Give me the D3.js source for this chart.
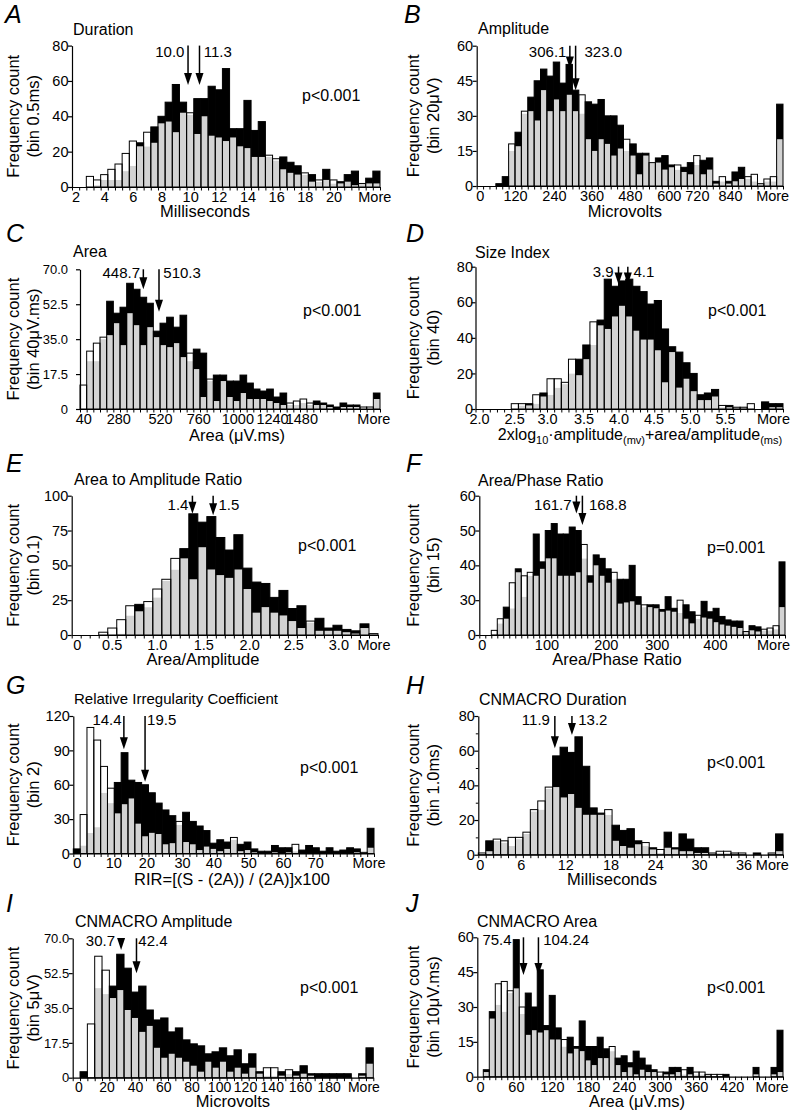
<!DOCTYPE html>
<html><head><meta charset="utf-8">
<script src="https://cdn.jsdelivr.net/npm/d3@7"></script>
<style>
body{margin:0;background:#fff;}
svg{display:block;}
</style></head><body>
<svg id="c" width="797" height="1115"></svg>
<script>
// ---------- DATA (counts per bin; "white" = group shown white, "black" = group shown black) ----------
// A Duration (bin 0.5 ms)
const durationWhite = [0,0,6,4,7,10,13,19,26,23,31,25,36,37,31,42,42,30,40,29,28,26,28,23,22,17,17,18,16,10,8,7,8,3,4,4,4,2,3,1,2,2,2];
const durationBlack = [0,0,0,1,4,4,4,9,12,25,23,34,40,48,58,48,41,50,50,57,55,67,33,33,49,32,37,17,15,17,14,12,7,7,3,10,2,3,7,9,2,5,9];
const durationTicks = ["2","4","6","8","10","12","14","16","18","20","More"];
const durationTickBins = [0.5,4.5,8.5,12.5,16.5,20.5,24.5,28.5,32.5,36.5,42.2];
const durationMeans = ["10.0","11.3"], durationMeanBins = [16.2,17.8], durationMeanTips = [57.7,57.7], durationMeanLabelBins = [15.7,18.4];

// B Amplitude (bin 20 uV)
const amplitudeWhite = [0,0,0,0,0,18,17,32,32,28,41,32,37,32,39,32,39,20,15,20,18,13,16,20,13,5,13,10,10,7,8,9,6,5,13,5,7,1,4,1,2,3,4,5,1,3,4,20];
const amplitudeBlack = [0,0,0,1,4,15,23,31,38,45,50,47,53,44,52,41,31,36,35,37,30,30,26,15,18,14,14,10,12,13,9,7,8,10,9,11,12,2,2,2,6,8,3,2,1,2,2,35];
const amplitudeTicks = ["0","120","240","360","480","600","720","840","More"];
const amplitudeTickBins = [0.5,6,12.1,18,24,30.1,34.5,39.7,46.3];
const amplitudeMeans = ["306.1","323.0"], amplitudeMeanBins = [14.6,15.5], amplitudeMeanTips = [50.3,41], amplitudeMeanLabelBins = [14.06,16.9];

// C Area (bin 40 uV.ms)
const areaWhite = [12,29,33,36,37,43,32,48,42,32,41,36,32,31,33,26,28,20,6,15,4,14,6,4,8,5,5,5,4,3,2,3,4,5,3,2,2,1,0,1,1,1,1,1,5];
const areaBlack = [0,24,24,35,54,48,51,63,60,56,53,39,43,46,41,47,24,30,28,14,17,17,14,14,17,13,10,9,10,6,8,2,2,3,2,4,3,2,1,3,2,2,0,0,8];
const areaTicks = ["40","280","520","760","1000","1240","1480","More"];
const areaTickBins = [0.5,5.75,12,17.75,23.6,28.8,33.2,44];
const areaMeans = ["448.7","510.3"], areaMeanBins = [9.5,11.85], areaMeanTips = [60,48.7], areaMeanLabelBins = [9.0,12.5];

// D Size Index (bin 0.1)
const sizeWhite = [0,0,0,0,0,3,3,2,8,7,17,17,15,28,19,28,49,47,45,52,58,52,44,39,39,33,15,32,12,17,10,5,5,7,2,1,1,1,3,0,0,1,1];
const sizeBlack = [0,0,0,0,0,0,2,3,3,9,8,12,14,20,28,36,36,50,73,69,72,73,69,66,59,61,45,35,32,26,20,8,9,11,1,2,1,1,0,0,4,3,3];
const sizeTicks = ["2.0","2.5","3.0","3.5","4.0","4.5","5.0","5.5","More"];
const sizeTickBins = [0.5,5.4,10,15.1,20,24.9,30,34.9,41.6];
const sizeMeans = ["3.9","4.1"], sizeMeanBins = [20.0,21.3], sizeMeanTips = [70,70], sizeMeanLabelBins = [19.3,22.1];

// E Area to Amplitude Ratio (bin 0.1)
const ratioWhite = [0,0,0,2,5,11,21,17,24,33,40,55,55,40,63,47,43,41,47,33,16,20,16,14,10,5,10,3,3,3,2,1,5,1];
const ratioBlack = [0,0,0,0,0,1,14,22,20,27,39,47,62,87,81,85,70,61,72,48,38,37,27,32,19,21,9,12,5,7,4,3,8,0];
const ratioTicks = ["0","0.5","1.0","1.5","2.0","2.5","3.0","More"];
const ratioTickBins = [0.56,4.44,9.44,14.6,19.7,24.6,29.6,33.5];
const ratioMeans = ["1.4","1.5"], ratioMeanBins = [13.4,15.7], ratioMeanTips = [87,86], ratioMeanLabelBins = [12.96,16.3];

// F Area/Phase Ratio (bin 15)
const phaseWhite = [0,0,4,14,14,35,38,37,38,37,39,42,42,37,37,37,38,46,35,40,37,35,38,27,28,29,26,26,24,23,20,21,20,30,14,10,17,15,14,11,9,8,7,6,3,4,3,5,6,8,24];
const phaseBlack = [0,0,1,10,24,23,39,31,37,49,41,50,52,49,49,51,50,42,37,43,42,39,36,36,36,40,31,24,26,26,22,31,23,19,26,20,14,29,20,23,16,13,12,12,3,8,7,4,4,5,41];
const phaseTicks = ["0","100","200","300","400","More"];
const phaseTickBins = [0.4,11.2,21.1,29.6,39.3,49];
const phaseMeans = ["161.7","168.8"], phaseMeanBins = [16.2,17.2], phaseMeanTips = [54.9,51.6], phaseMeanLabelBins = [15.4,18.3];

// G Relative Irregularity Coefficient (bin 2)
const rirWhite = [0,34,110,99,76,57,35,43,48,26,15,18,17,8,9,28,10,8,3,6,4,2,4,14,2,3,1,0,0,1,0,1,8,0,0,0,0,0,0,0,0,1,1,5];
const rirBlack = [4,7,18,23,53,44,62,88,64,62,60,53,44,38,33,25,36,28,24,20,9,12,10,12,8,10,4,2,2,7,5,5,2,3,7,5,2,5,2,3,5,4,1,22];
const rirTicks = ["0","10","20","30","40","50","60","70","More"];
const rirTickBins = [0.5,5.85,10.7,15.9,20.5,25.6,30.7,35.4,43.2];
const rirMeans = ["14.4","19.5"], rirMeanBins = [7.4,10.5], rirMeanTips = [90.9,62.7], rirMeanLabelBins = [7.07,10.8];

// H CNMACRO Duration (bin 1.0 ms)
const cnDurWhite = [1,2,9,8,10,10,13,26,31,39,39,33,35,27,23,23,23,26,8,5,4,6,7,3,3,4,3,2,2,1,1,1,2,2,1,1,0,0,0,1,2];
const cnDurBlack = [0,8,8,7,5,9,12,25,26,38,57,62,59,68,51,27,24,23,17,14,15,8,5,4,1,13,4,12,9,4,4,1,1,1,1,0,0,1,0,1,12];
const cnDurTicks = ["0","6","12","18","24","30","36","More"];
const cnDurTickBins = [0.2,5.7,11.7,17.8,23.8,29.7,35.7,39.5];
const cnDurMeans = ["11.9","13.2"], cnDurMeanBins = [10.3,12.6], cnDurMeanTips = [61.4,69], cnDurMeanLabelBins = [9.64,13.45];

// I CNMACRO Amplitude (bin 5 uV)
const cnAmpWhite = [0,0,27,61,54,40,44,34,30,23,26,15,10,12,10,8,6,3,8,5,8,3,5,2,5,2,5,5,1,4,1,2,1,0,0,0,0,0,0,1,7];
const cnAmpBlack = [0,3,0,45,42,46,62,55,43,46,34,29,30,23,25,19,17,16,12,13,15,11,14,7,12,3,1,1,3,2,3,6,2,2,2,2,2,2,0,2,15];
const cnAmpTicks = ["0","20","40","60","80","100","120","140","160","180","More"];
const cnAmpTickBins = [0.77,4.6,8.5,12.36,16.2,19.96,23.5,27.15,31,34.9,39.65];
const cnAmpMeans = ["30.7","42.4"], cnAmpMeanBins = [6.6,8.7], cnAmpMeanTips = [64.1,52.4], cnAmpMeanLabelBins = [5.77,8.95];

// J CNMACRO Area (bin 10 uV.ms)
const cnAreaWhite = [0,2,25,40,41,37,38,30,18,20,19,20,16,16,16,10,12,11,7,5,8,8,13,5,2,4,1,3,2,2,2,1,1,2,3,1,2,2,1,1,1,0,0,0,0,0,1,0,0,1,2];
const cnAreaBlack = [0,3,28,31,28,36,59,27,36,30,46,22,35,21,13,17,13,24,13,13,17,12,11,8,9,6,11,8,5,3,1,2,4,4,1,4,1,1,1,0,0,1,0,0,0,0,4,0,0,4,20];
const cnAreaTicks = ["0","60","120","180","240","300","360","420","More"];
const cnAreaTickBins = [0.44,6.44,12.44,18.44,24.44,30.44,36.44,42.44,49.1];
const cnAreaMeans = ["75.4","104.24"], cnAreaMeanBins = [7.7,10.2], cnAreaMeanTips = [43.8,43.8], cnAreaMeanLabelBins = [5.72,11.0];

// ---------- LAYOUT ----------
const FONT = '"Liberation Sans", Arial, Helvetica, sans-serif';
const GRAY = '#d3d3d3';
const fmtInt = d3.format('d');
const fmtDec = d => d === 0 ? '0' : d3.format('.1f')(d);

const panels = [
 {letter:'A', col:0, lx:5, ly:23, title:'Duration', tx:73, ty:35, x0:72, x1:380, yBase:187, yTop:45.6, yMax:80, yTicks:[0,20,40,60,80], yFmt:fmtInt, ylab:'(bin 0.5ms)',
  white:durationWhite, black:durationBlack, ticks:durationTicks, tickBins:durationTickBins, means:durationMeans, meanBins:durationMeanBins, tips:durationMeanTips, meanLab:durationMeanLabelBins, labOff:11.5,
  xTitle:['Milliseconds'], xtx:205, xty:217, p:'p<0.001', px:302, py:101},
 {letter:'B', col:400, lx:404, ly:23, title:'Amplitude', tx:478, ty:34, x0:476.7, x1:783, yBase:186, yTop:45.7, yMax:60, yTicks:[0,15,30,45,60], yFmt:fmtInt, ylab:'(bin 20\u03bcV)',
  white:amplitudeWhite, black:amplitudeBlack, ticks:amplitudeTicks, tickBins:amplitudeTickBins, means:amplitudeMeans, meanBins:amplitudeMeanBins, tips:amplitudeMeanTips, meanLab:amplitudeMeanLabelBins, labOff:11,
  xTitle:['Microvolts'], xtx:625, xty:217, p:null},
 {letter:'C', col:0, lx:6, ly:242, title:'Area', tx:73, ty:257, x0:80, x1:380, yBase:409, yTop:269.3, yMax:70, yTicks:[0,17.5,35,52.5,70], yFmt:fmtDec, yFont:13, ylab:'(bin 40\u03bcV.ms)', yGap:12,
  white:areaWhite, black:areaBlack, ticks:areaTicks, tickBins:areaTickBins, means:areaMeans, meanBins:areaMeanBins, tips:areaMeanTips, meanLab:areaMeanLabelBins, labOff:8.5,
  xTitle:['Area (\u03bcV.ms)'], xtx:237, xty:441, p:'p<0.001', px:303, py:316},
 {letter:'D', col:400, lx:406, ly:242, title:'Size Index', tx:475, ty:258, x0:475.5, x1:783, yBase:409, yTop:266.7, yMax:80, yTicks:[0,20,40,60,80], yFmt:fmtInt, ylab:'(bin 40)', yGap:2.5,
  white:sizeWhite, black:sizeBlack, ticks:sizeTicks, tickBins:sizeTickBins, means:sizeMeans, meanBins:sizeMeanBins, tips:sizeMeanTips, meanLab:sizeMeanLabelBins, labOff:10,
  xTitle:'sizeIndex', xtx:640, xty:440, p:'p<0.001', px:708, py:316},
 {letter:'E', col:0, lx:6, ly:472, title:'Area to Amplitude Ratio', tx:74, ty:485, x0:71.7, x1:378, yBase:635, yTop:495.7, yMax:100, yTicks:[0,25,50,75,100], yFmt:fmtInt, ylab:'(bin 0.1)',
  white:ratioWhite, black:ratioBlack, ticks:ratioTicks, tickBins:ratioTickBins, means:ratioMeans, meanBins:ratioMeanBins, tips:ratioMeanTips, meanLab:ratioMeanLabelBins, labOff:14,
  xTitle:['Area/Amplitude'], xtx:203, xty:665, p:'p<0.001', px:298, py:551},
 {letter:'F', col:400, lx:406, ly:472, title:'Area/Phase Ratio', tx:478, ty:486, x0:479.3, x1:785, yBase:635, yTop:495.7, yMax:60, yTicks:[0,30,40,50,60], yFmt:fmtInt, ylab:'(bin 15)', broken:true,
  white:phaseWhite, black:phaseBlack, ticks:phaseTicks, tickBins:phaseTickBins, means:phaseMeans, meanBins:phaseMeanBins, tips:phaseMeanTips, meanLab:phaseMeanLabelBins, labOff:14,
  xTitle:['Area/Phase Ratio'], xtx:617, xty:665, p:'p=0.001', px:707, py:553},
 {letter:'G', col:0, lx:6, ly:694, title:'Relative Irregularity Coefficient', titleSize:15, tx:74, ty:704, x0:73.3, x1:374, yBase:853.5, yTop:716, yMax:120, yTicks:[0,30,60,90,120], yFmt:fmtInt, ylab:'(bin 2)',
  white:rirWhite, black:rirBlack, ticks:rirTicks, tickBins:rirTickBins, means:rirMeans, meanBins:rirMeanBins, tips:rirMeanTips, meanLab:rirMeanLabelBins, labOff:9,
  xTitle:['RIR=[(S - (2A)) / (2A)]x100'], xtx:232, xty:885, p:'p<0.001', px:300, py:773},
 {letter:'H', col:400, lx:406, ly:694, title:'CNMACRO Duration', tx:479, ty:705, x0:478.3, x1:783, yBase:854.7, yTop:716, yMax:80, yTicks:[0,20,40,60,80], yMinor:[10,30,50,70], yFmt:fmtInt, ylab:'(bin 1.0ms)',
  white:cnDurWhite, black:cnDurBlack, ticks:cnDurTicks, tickBins:cnDurTickBins, means:cnDurMeans, meanBins:cnDurMeanBins, tips:cnDurMeanTips, meanLab:cnDurMeanLabelBins, labOff:9,
  xTitle:['Milliseconds'], xtx:612, xty:885, p:'p<0.001', px:707, py:768},
 {letter:'I', col:0, lx:6, ly:912, title:'CNMACRO Amplitude', tx:75, ty:927, x0:72.7, x1:373.3, yBase:1077.7, yTop:938.3, yMax:70, yTicks:[0,17.5,35,52.5,70], yFmt:fmtDec, yFont:13, ylab:'(bin 5\u03bcV)', xFont:14,
  white:cnAmpWhite, black:cnAmpBlack, ticks:cnAmpTicks, tickBins:cnAmpTickBins, means:cnAmpMeans, meanBins:cnAmpMeanBins, tips:cnAmpMeanTips, meanLab:cnAmpMeanLabelBins, labOff:7.5,
  xTitle:['Microvolts'], xtx:233, xty:1107, p:'p<0.001', px:300, py:993},
 {letter:'J', col:400, lx:406, ly:912, title:'CNMACRO Area', tx:477, ty:927, x0:477.3, x1:783, yBase:1076.7, yTop:937.3, yMax:60, yTicks:[0,15,30,45,60], yFmt:fmtInt, ylab:'(bin 10\u03bcV.ms)',
  white:cnAreaWhite, black:cnAreaBlack, ticks:cnAreaTicks, tickBins:cnAreaTickBins, means:cnAreaMeans, meanBins:cnAreaMeanBins, tips:cnAreaMeanTips, meanLab:cnAreaMeanLabelBins, labOff:8,
  xTitle:['Area (\u03bcV.ms)'], xtx:637, xty:1107, p:'p<0.001', px:707, py:993}
];

const svg = d3.select('#c').attr('font-family', FONT);
svg.append('rect').attr('width',797).attr('height',1115).attr('fill','#fff');

function txt(g, x, y, s, size, anchor) {
  return g.append('text').attr('x', x).attr('y', y).attr('font-size', size)
    .attr('text-anchor', anchor || 'start').attr('fill', '#000').text(s);
}

function drawPanel(p) {
  const g = svg.append('g');
  const n = p.white.length;
  const x = d3.scaleLinear().domain([0, n]).range([p.x0, p.x1]);
  const y = p.broken
    ? d3.scaleLinear().domain([0, 30, p.yMax]).range([p.yBase, p.yBase - 0.25 * (p.yBase - p.yTop), p.yTop])
    : d3.scaleLinear().domain([0, p.yMax]).range([p.yBase, p.yTop]);

  const bins = p.white.map((w, i) => {
    const b = p.black[i];
    return {i, w, b, hi: Math.max(w, b), lo: Math.min(w, b)};
  });

  g.selectAll('rect.gray').data(bins.filter(d => d.lo > 0)).join('rect').attr('class', 'gray')
    .attr('x', d => x(d.i)).attr('width', d => x(d.i + 1) - x(d.i))
    .attr('y', d => y(d.lo)).attr('height', d => y(0) - y(d.lo)).attr('fill', GRAY);
  g.selectAll('rect.ex').data(bins.filter(d => d.hi > d.lo)).join('rect').attr('class', 'ex')
    .attr('x', d => x(d.i)).attr('width', d => x(d.i + 1) - x(d.i))
    .attr('y', d => y(d.hi)).attr('height', d => y(d.lo) - y(d.hi))
    .attr('fill', d => d.w > d.b ? '#fff' : '#000');
  g.selectAll('rect.ol').data(bins.filter(d => d.hi > 0)).join('rect').attr('class', 'ol')
    .attr('x', d => x(d.i)).attr('width', d => x(d.i + 1) - x(d.i))
    .attr('y', d => y(d.hi)).attr('height', d => y(0) - y(d.hi))
    .attr('fill', 'none').attr('stroke', '#000').attr('stroke-width', 1);

  // y axis
  const gap = p.yGap != null ? p.yGap : 3.5;
  const ya = d3.axisLeft(y).tickValues(p.yTicks).tickFormat(p.yFmt).tickSize(4).tickSizeOuter(0);
  const yg = g.append('g').attr('transform', `translate(${p.x0},0)`).call(ya);
  yg.selectAll('text').attr('font-size', p.yFont || 14.5).attr('font-family', FONT).attr('fill', '#000').attr('x', -gap);
  yg.selectAll('line,path').attr('stroke', '#000').attr('stroke-width', 1.2);
  if (p.yMinor) {
    const ym = d3.axisLeft(y).tickValues(p.yMinor).tickSize(2.5).tickSizeOuter(0).tickFormat('');
    const ymg = g.append('g').attr('transform', `translate(${p.x0},0)`).call(ym);
    ymg.select('.domain').remove();
    ymg.selectAll('line').attr('stroke', '#000').attr('stroke-width', 1);
  }

  // x axis: bin-edge ticks
  const xe = d3.axisBottom(x).tickValues(d3.range(n + 1)).tickSize(3.5).tickSizeOuter(0).tickFormat('');
  const xeg = g.append('g').attr('transform', `translate(0,${p.yBase})`).call(xe);
  xeg.selectAll('line').attr('stroke', '#000').attr('stroke-width', 1);
  xeg.select('.domain').attr('stroke', '#000').attr('stroke-width', 1.2);
  // x axis labels
  const xl = d3.axisBottom(x).tickValues(p.tickBins).tickFormat((d, i) => p.ticks[i]).tickSize(0).tickPadding(4.7);
  const xlg = g.append('g').attr('transform', `translate(0,${p.yBase})`).call(xl);
  xlg.select('.domain').remove();
  xlg.selectAll('text').attr('font-size', p.xFont || 14.5).attr('font-family', FONT).attr('fill', '#000');

  // letter & title
  txt(g, p.lx, p.ly, p.letter, 25).attr('font-style', 'italic');
  txt(g, p.tx, p.ty, p.title, p.titleSize || 16);

  // y axis title
  const cy = (p.yBase + p.yTop) / 2;
  g.append('text').attr('transform', `translate(${p.col + 19},${cy}) rotate(-90)`)
    .attr('text-anchor', 'middle').attr('font-size', 16.5).text('Frequency count');
  g.append('text').attr('transform', `translate(${p.col + 39},${cy}) rotate(-90)`)
    .attr('text-anchor', 'middle').attr('font-size', 16.5).text(p.ylab);

  // x axis title
  if (p.xTitle === 'sizeIndex') {
    const t = g.append('text').attr('x', p.xtx).attr('y', p.xty).attr('font-size', 16).attr('text-anchor', 'middle');
    t.append('tspan').text('2xlog');
    t.append('tspan').attr('font-size', 11).attr('dy', 4).text('10');
    t.append('tspan').attr('dy', -4).text('\u00b7amplitude');
    t.append('tspan').attr('font-size', 11).attr('dy', 4).text('(mv)');
    t.append('tspan').attr('dy', -4).text('+area/amplitude');
    t.append('tspan').attr('font-size', 11).attr('dy', 4).text('(ms)');
  } else {
    txt(g, p.xtx, p.xty, p.xTitle[0], 16.5, 'middle');
  }

  if (p.p) txt(g, p.px, p.py, p.p, 16);

  // mean arrows
  const headH = 12, headW = 8;
  p.meanBins.forEach((mb, k) => {
    const ax = x(mb);
    const ty = y(p.tips[k]);
    g.append('line').attr('x1', ax).attr('x2', ax).attr('y1', y(p.yMax)).attr('y2', ty - headH + 1)
      .attr('stroke', '#000').attr('stroke-width', 1.5);
    g.append('path').attr('d', `M${ax - headW / 2},${ty - headH}L${ax + headW / 2},${ty - headH}L${ax},${ty}Z`).attr('fill', '#000');
    txt(g, x(p.meanLab[k]), y(p.yMax) + p.labOff, p.means[k], 15, k === 0 ? 'end' : 'start');
  });
}

panels.forEach(drawPanel);
</script>
</body></html>
